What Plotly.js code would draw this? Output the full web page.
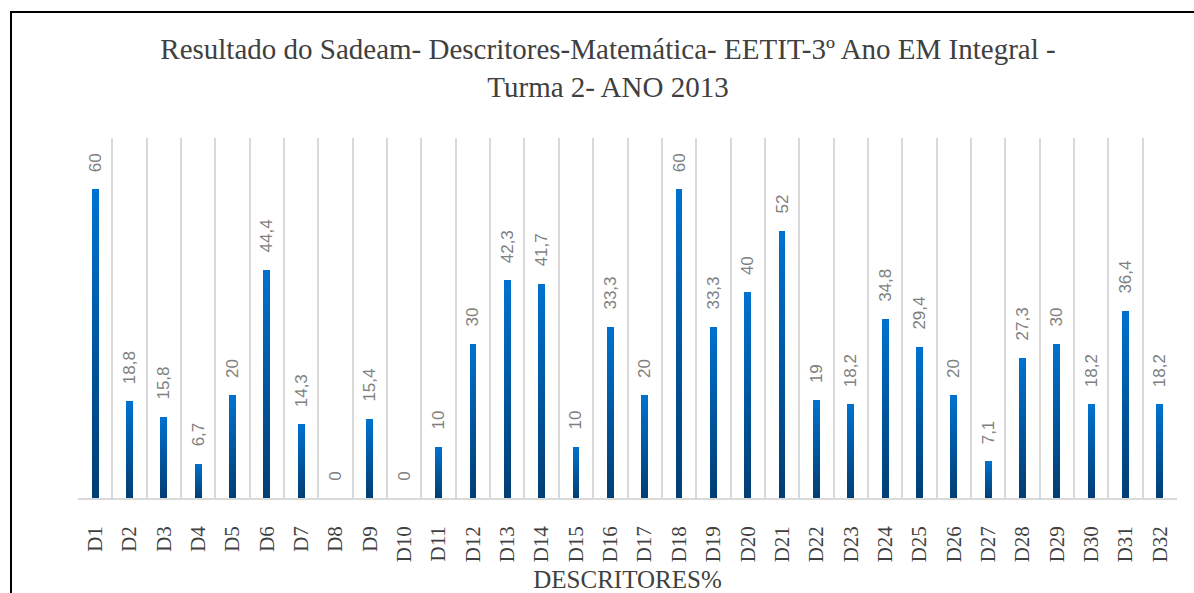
<!DOCTYPE html>
<html>
<head>
<meta charset="utf-8">
<script src="https://cdn.plot.ly/plotly-3.0.1.min.js"></script>
<style>
  html, body { margin: 0; padding: 0; background: #fff; }
  #wrap { position: relative; width: 1194px; height: 593px; overflow: hidden; }
  #chart { position: absolute; left: 0; top: 0; width: 1194px; height: 593px; }
  #chart .bars .point path { shape-rendering: crispEdges; }
  #frame { position: absolute; left: 10px; top: 11px; width: 1300px; height: 700px;
           border-left: 2.5px solid #000; border-top: 2.5px solid #000; pointer-events: none; }
</style>
</head>
<body>
<div id="wrap">
  <div id="chart"></div>
  <div id="frame"></div>
</div>
<script>
const categories = ["D1","D2","D3","D4","D5","D6","D7","D8","D9","D10","D11","D12","D13","D14","D15","D16",
                    "D17","D18","D19","D20","D21","D22","D23","D24","D25","D26","D27","D28","D29","D30","D31","D32"];
const values = [60, 18.8, 15.8, 6.7, 20, 44.4, 14.3, 0, 15.4, 0, 10, 30, 42.3, 41.7, 10, 33.3,
                20, 60, 33.3, 40, 52, 19, 18.2, 34.8, 29.4, 20, 7.1, 27.3, 30, 18.2, 36.4, 18.2];
const labels = ["60","18,8","15,8","6,7","20","44,4","14,3","0","15,4","0","10","30","42,3","41,7","10","33,3",
                "20","60","33,3","40","52","19","18,2","34,8","29,4","20","7,1","27,3","30","18,2","36,4","18,2"];

// vertical colour gradient of each bar, built from overlaid bars (top light -> bottom dark)
const topColor = [0, 114, 206];
const bottomColor = [0, 62, 116];
const steps = 40;
const traces = [];
for (let k = steps; k >= 1; k--) {
  const f = k / steps;              // fraction of bar height covered by this layer
  const t = (f - 1 / steps) / (1 - 1 / steps);
  const c = topColor.map((v, i) => Math.round(bottomColor[i] + (v - bottomColor[i]) * t));
  const tr = {
    type: 'bar',
    x: categories,
    y: values.map(v => v * f),
    width: 0.2,
    marker: { color: `rgb(${c[0]},${c[1]},${c[2]})`, line: { width: 0 } },
    hoverinfo: 'skip',
    showlegend: false
  };
  if (k === steps) {
    tr.text = labels.map(s => '\u00a0\u00a0\u00a0' + s);
    tr.textposition = 'outside';
    tr.textangle = -90;
    tr.constraintext = 'none';
    tr.cliponaxis = false;
    tr.textfont = { family: 'Liberation Sans, Arial, sans-serif', size: 17, color: '#7f7f7f' };
    tr.hovertemplate = '%{x}: %{y}<extra></extra>';
    delete tr.hoverinfo;
  }
  traces.push(tr);
}

const layout = {
  width: 1194, height: 593,
  paper_bgcolor: '#ffffff', plot_bgcolor: '#ffffff',
  margin: { l: 78, r: 17, t: 138, b: 95, pad: 0 },
  barmode: 'overlay',
  showlegend: false,
  title: {
    text: 'Resultado do Sadeam- Descritores-Matemática- EETIT-3º Ano EM Integral -<br>Turma 2- ANO 2013',
    font: { family: '"Liberation Serif", "Times New Roman", serif', size: 29, color: '#404040' },
    x: 608 / 1194, xref: 'container', xanchor: 'center',
    y: 1 - 59 / 593, yref: 'container', yanchor: 'top'
  },
  xaxis: {
    type: 'category',
    tickangle: -90,
    tickson: 'boundaries',
    showgrid: true, gridcolor: '#d9d9d9', gridwidth: 1.5,
    ticks: '',
    showline: true, linecolor: '#d9d9d9', linewidth: 1.5,
    tickfont: { family: '"Liberation Serif", "Times New Roman", serif', size: 21, color: '#404040' },
    ticklabelstandoff: 18,
    title: { text: 'DESCRITORES%', standoff: 9,
             font: { family: '"Liberation Serif", "Times New Roman", serif', size: 25, color: '#404040' } },
    fixedrange: true
  },
  yaxis: {
    range: [0, 70],
    showgrid: false, zeroline: false, showticklabels: false, ticks: '', showline: false,
    fixedrange: true
  }
};

Plotly.newPlot('chart', traces, layout, { displayModeBar: false, staticPlot: false });
</script>
</body>
</html>
